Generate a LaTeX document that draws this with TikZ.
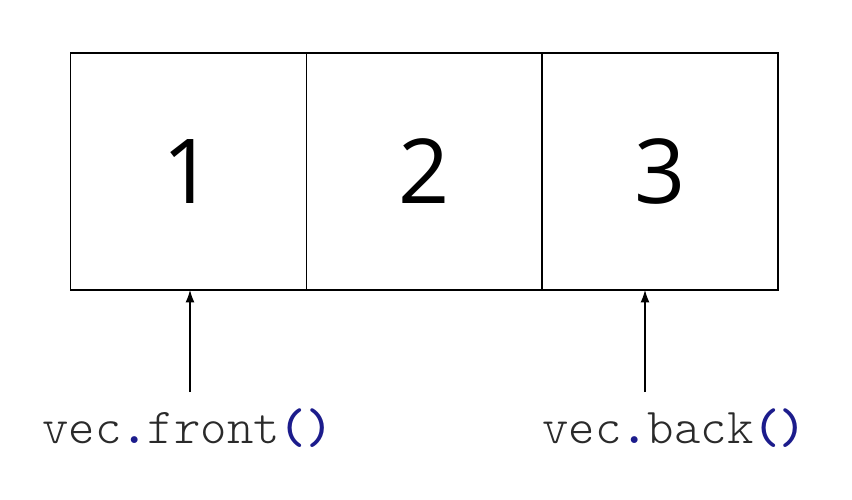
\documentclass[tikz,border=0pt]{standalone}
\usepackage{fontspec}
\setmainfont{Open Sans}
\newfontfamily\codefont{Latin Modern Mono Light}
\usetikzlibrary{positioning}
\usetikzlibrary{arrows.meta}
\definecolor{codeblue}{HTML}{1C1C8C}
\definecolor{codegray}{HTML}{2A2A2A}
\newcommand{\punct}[1]{\textcolor{codeblue}{\bfseries #1}}

\begin{document}
\begin{tikzpicture}[
    x=0.02cm, y=-0.02cm,
    cellnode/.style={draw=black, line width=1.1pt, minimum width=4.72cm, minimum height=4.74cm,
        inner sep=0pt, outer sep=0pt, font=\fontsize{51}{51}\selectfont},
    codelabel/.style={anchor=base west, inner sep=0pt, text=codegray, font=\codefont\fontsize{28.6}{28.6}\selectfont},
    pointer/.style={-{Latex[length=7pt, width=5pt]}, line width=0.6pt},
]
    \useasboundingbox (0,0) rectangle (852,500);

    % Vector cells
    \node at (188.5,171.5) [cellnode](cell1){1};
    \node [cellnode, right=0pt of cell1](cell2){2};
    \node [cellnode, right=0pt of cell2](cell3){3};

    % front()
    \node at (42,443) [codelabel](front_label){vec\punct{.}front\punct{()}};
    \coordinate (front_tail) at (190,392);
    \draw [pointer] (front_tail) -- (front_tail |- cell1.south);

    % back()
    \node at (542,443) [codelabel](back_label){vec\punct{.}back\punct{()}};
    \coordinate (back_tail) at (645,392);
    \draw [pointer] (back_tail) -- (back_tail |- cell3.south);

\end{tikzpicture}
\end{document}
